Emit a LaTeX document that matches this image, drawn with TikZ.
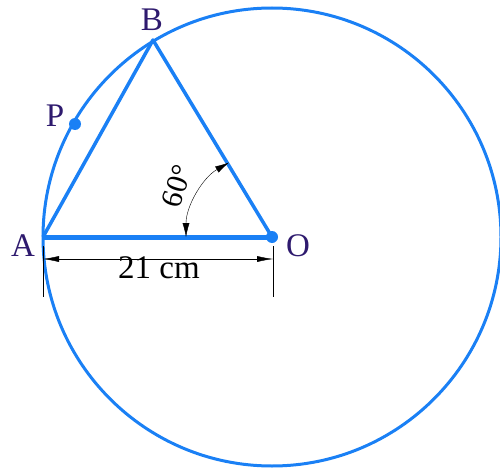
\documentclass[tikz,border=0pt]{standalone}
\usepackage{fontspec}
\setmainfont{Liberation Serif}
\usetikzlibrary{arrows.meta}
\begin{document}
\begin{tikzpicture}[x=1pt, y=-1pt, font=\fontsize{33}{36}\selectfont]
    \definecolor{lineColour}{HTML}{1A80F5}
    \definecolor{labelColour}{HTML}{2E1A6E}

    \useasboundingbox (0,0) rectangle (500,468);

    % Define points
    \coordinate (O) at (272,237);
    \coordinate (A) at (43,237);
    \coordinate (B) at (153,40);
    \coordinate (P) at (75,124);

    % Draw circle
    \draw[lineColour, line width=3pt] (O) circle (229);

    % Draw triangle
    \draw[lineColour, line width=3.5pt, line join=round] (A) -- (B) -- (O);
    \draw[lineColour, line width=5pt] (A) -- (O);
    \fill[lineColour] (O) circle (6);
    \fill[lineColour] (P) circle (6);

    % Labels
    \node[labelColour] (labA) at (23,246) {A};
    \node[labelColour] (labB) at (152,20) {B};
    \node[labelColour] (labO) at (298,246) {O};
    \node[labelColour] (labP) at (55,116) {P};

    % Angle at O
    \draw[{Latex[length=14pt,width=7pt]}-{Latex[length=14pt,width=7pt]}, thin]
        (O) ++(180:86) arc[start angle=180, end angle=240, radius=86];
    \node[rotate=72, inner sep=0pt, font=\fontsize{30}{32}\selectfont] (ang) at (177,186) {60°};

    % Dimension line
    \coordinate (dA) at (43,259);
    \coordinate (dO) at (273,259);
    \draw[thin] (43,246) -- (43,297);
    \draw[thin] (273,246) -- (273,297);
    \draw[{Latex[length=16pt,width=6pt]}-{Latex[length=16pt,width=6pt]}, thin] (dA) -- (dO);
    \node (len) at (159,268) {21 cm};

\end{tikzpicture}
\end{document}
